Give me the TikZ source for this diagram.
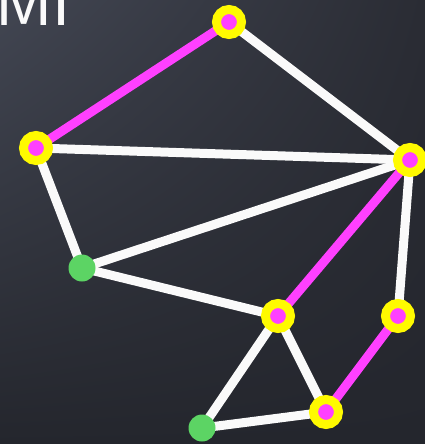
\documentclass[tikz,border=0pt]{standalone}
\definecolor{board}{RGB}{36,38,45}
\definecolor{boardlight}{RGB}{66,70,82}
\definecolor{boardmid}{RGB}{42,44,52}
\definecolor{chalk}{RGB}{250,250,250}
\definecolor{hilite}{RGB}{255,64,255}
\definecolor{ring}{RGB}{255,250,0}
\definecolor{leaf}{RGB}{92,212,100}
\usepackage{xcolor}
\usepackage{tikz}
\usetikzlibrary{positioning,backgrounds,shadings}

\begin{document}
\begin{tikzpicture}[x=1pt,y=-1pt,
    marked/.style={circle,draw=ring,line width=9pt,fill=hilite,minimum size=25pt,inner sep=0pt},
    free/.style={circle,fill=leaf,minimum size=27pt,inner sep=0pt},
    edge/.style={chalk,line width=9pt},
    pick/.style={hilite,line width=9pt}]
        \useasboundingbox (0,0) rectangle (425,444);
        \clip (0,0) rectangle (425,444);
        \node[anchor=base west,inner sep=0pt,text=chalk,font=\sffamily\fontsize{70}{70}\selectfont] (title) at (-5,26) {MI};
        % vertices
        \node[marked] (top) at (229,22) {};
        \node[marked] (left) at (36,148) {};
        \node[marked] (right) at (410,160) {};
        \node[free] (mid) at (82,268) {};
        \node[marked] (hub) at (278,316) {};
        \node[marked] (side) at (398,316) {};
        \node[free] (low) at (202,428) {};
        \node[marked] (base) at (326,412) {};
        \begin{scope}[on background layer]
          \shade[upper left=boardlight,upper right=boardmid,lower left=board,lower right=board] (0,0) rectangle (425,444);
          % edges
          \draw[edge] (top.center) -- (right.center);
          \draw[edge] (left.center) -- (right.center);
          \draw[edge] (left.center) -- (mid.center);
          \draw[edge] (mid.center) -- (right.center);
          \draw[edge] (mid.center) -- (hub.center);
          \draw[edge] (side.center) -- (right.center);
          \draw[edge] (hub.center) -- (low.center);
          \draw[edge] (hub.center) -- (base.center);
          \draw[edge] (low.center) -- (base.center);
          % chosen edges
          \draw[pick] (top.center) -- (left.center);
          \draw[pick] (hub.center) -- (right.center);
          \draw[pick] (side.center) -- (base.center);
        \end{scope}
      \end{tikzpicture}
\end{document}
